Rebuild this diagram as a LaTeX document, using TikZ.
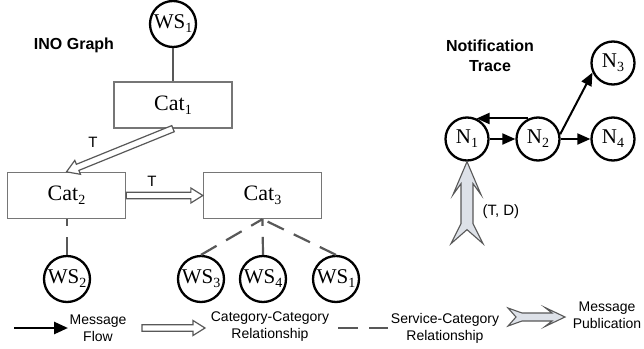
\documentclass[tikz,border=0pt]{standalone}
\usepackage{fontspec}
\setmainfont{Liberation Serif}
\setsansfont{Liberation Sans}
\usetikzlibrary{arrows.meta,calc}

\definecolor{edgegray}{HTML}{585858}
\definecolor{boxgray}{HTML}{767676}
\definecolor{pubfill}{HTML}{DDE1E8}

% lowered subscript digit for node names
\newcommand{\sub}[1]{\raisebox{-4pt}{\fontsize{14}{14}\selectfont #1}}

% outlined block arrow drawn between two points (shaft + triangular head)
\newcommand{\hollowarrow}[2]{%
  \coordinate (ha) at (#1);
  \coordinate (hb) at (#2);
  \coordinate (hc) at ($(hb)!12pt!(ha)$);
  \draw[openarrow] ($(ha)!3.3pt!90:(hb)$) -- ($(hc)!3.3pt!90:(hb)$)
    -- ($(hc)!7.5pt!90:(hb)$) -- (hb) -- ($(hc)!7.5pt!-90:(hb)$)
    -- ($(hc)!3.3pt!-90:(hb)$) -- ($(ha)!3.3pt!-90:(hb)$) -- cycle;
}

\tikzset{
  catbox/.style={draw=boxgray, line width=1.3pt, minimum width=118pt,
    minimum height=46pt, inner sep=0pt, font=\fontsize{22}{22}\selectfont},
  wsnode/.style={circle, draw=black, line width=2.3pt, minimum size=46pt,
    inner sep=0pt, font=\fontsize{21}{21}\selectfont},
  nnode/.style={circle, draw=black, line width=2.3pt, minimum size=43pt,
    inner sep=0pt, font=\fontsize{21}{21}\selectfont},
  title/.style={font=\sffamily\bfseries\fontsize{16}{20}\selectfont, align=center},
  tlabel/.style={font=\sffamily\fontsize{15}{15}\selectfont},
  legendtext/.style={font=\sffamily\fontsize{14}{17}\selectfont, align=center},
  solidlink/.style={draw=edgegray, line width=2pt},
  dashlink/.style={draw=edgegray, line width=2.2pt, dash pattern=on 18pt off 11pt},
  openarrow/.style={draw=edgegray, line width=1.2pt, fill=white, line join=miter},
  msg/.style={draw=black, line width=2pt, -{Triangle[length=13pt,width=11pt]}},
  pubshape/.style={draw=edgegray, line width=1.1pt, fill=pubfill, line join=miter},
}

\begin{document}
\begin{tikzpicture}[x=1pt, y=-1pt]
\useasboundingbox (0,0) rectangle (644,348);

% ---------- INO graph ----------
\node[title] (inotitle) at (74,45) {INO Graph};

\node[wsnode] (ws1a) at (173,24) {WS\sub{1}};
\node[catbox] (cat1) at (173,105) {Cat\sub{1}};
\node[catbox] (cat2) at (66.5,195.5) {Cat\sub{2}};
\node[catbox] (cat3) at (262.5,195.5) {Cat\sub{3}};
\node[wsnode] (ws2) at (67,279) {WS\sub{2}};
\node[wsnode] (ws3) at (201,279) {WS\sub{3}};
\node[wsnode] (ws4) at (263,279) {WS\sub{4}};
\node[wsnode] (ws1b) at (336,279) {WS\sub{1}};

\draw[solidlink] (ws1a) -- (cat1);

\hollowarrow{cat1.south}{cat2.north}
\hollowarrow{cat2.east}{cat3.west}
\node[tlabel] (t1) at (93,142) {T};
\node[tlabel] (t2) at (152,181) {T};

\draw[dashlink] (ws2.north) -- (ws2.north |- cat2.south);
\draw[dashlink] (ws3.north) -- (cat3.south);
\draw[dashlink] (ws4.north) -- (cat3.south);
\draw[dashlink] (ws1b.north) -- (cat3.south);

% ---------- notification trace ----------
\node[title] (nttitle) at (490,56) {Notification\\Trace};

\node[nnode] (n1) at (467,139) {N\sub{1}};
\node[nnode] (n2) at (538,139) {N\sub{2}};
\node[nnode] (n3) at (613,63) {N\sub{3}};
\node[nnode] (n4) at (613,139) {N\sub{4}};

\draw[msg] (n1) -- (n2);
\draw[msg] (n2) -- (n4);
\draw[msg] (n2.12) -- (n3.205);
\draw[msg] (n2.115) -- (n1.65);

% publication arrow entering N1 from below
\begin{scope}[shift={(n1.south)}]
  \draw[pubshape] (0,0) -- (14,33) -- (6,22) -- (6,62) -- (16,82) -- (0,68)
    -- (-16,82) -- (-6,62) -- (-6,22) -- (-14,33) -- cycle;
\end{scope}
\node[tlabel, anchor=west] (td) at (479,212) {(T, D)};

% ---------- legend ----------
\coordinate (mfa) at (14,328);
\coordinate (mfb) at (68,328);
\draw[msg, line width=2.6pt, -{Triangle[length=14pt,width=12pt]}] (mfa) -- (mfb);
\node[legendtext] (lmf) at (98,328) {Message\\Flow};

\coordinate (cca) at (142,328);
\coordinate (ccb) at (205,328);
\hollowarrow{cca}{ccb}
\node[legendtext] (lcc) at (270,327) {Category-Category\\Relationship};

\coordinate (sca) at (338,328);
\coordinate (scb) at (388,328);
\draw[dashlink, dash pattern=on 20pt off 11pt] (sca) -- (scb);
\node[legendtext] (lsc) at (445,328) {Service-Category\\Relationship};

\begin{scope}[shift={(508,317)}]
  \draw[pubshape] (57,0) -- (37,9.5) -- (44,4) -- (14,4) -- (0,9) -- (8,0)
    -- (0,-9) -- (14,-4) -- (44,-4) -- (37,-9.5) -- cycle;
\end{scope}
\node[legendtext] (lmp) at (607,315) {Message\\Publication};
\end{tikzpicture}
\end{document}
